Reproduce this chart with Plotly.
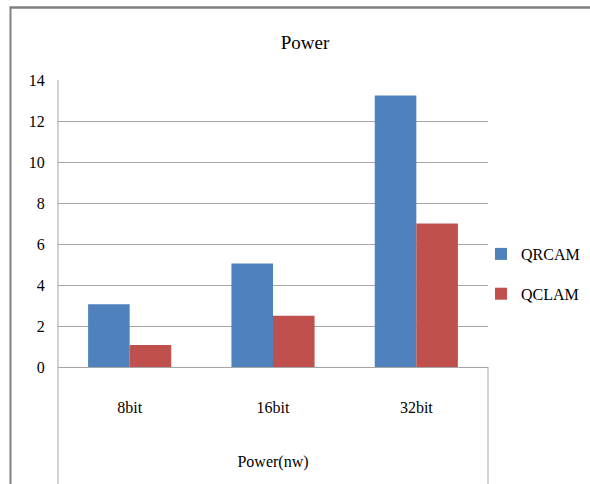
import plotly.graph_objects as go

categories = ["8bit", "16bit", "32bit"]
qrcam = [3.06, 5.05, 13.25]
qclam = [1.07, 2.5, 7.0]
y_ticks = [0, 2, 4, 6, 8, 10, 12, 14]

FONT = "'Liberation Serif', 'Times New Roman', 'DejaVu Serif', serif"
# figure is a bit wider than the 590px window so the legend keeps plotly's edge padding;
# the extra strip on the right is outside the visible window.
W, H = 612, 484
L, T, B = 58, 80, 117
R = W - 488
ph = H - T - B
pw = W - L - R

fig = go.Figure()
fig.add_trace(go.Bar(name="QRCAM", x=categories, y=qrcam, marker_color="#4F81BD",
                     marker_line_width=0, legendgroup="a"))
fig.add_trace(go.Bar(name="QCLAM", x=categories, y=qclam, marker_color="#C0504D",
                     marker_line_width=0, legendgroup="b"))

def px(x):
    return (x - L) / pw

def py(y):
    return (H - B - y) / ph

shapes = [
    dict(type="line", xref="paper", yref="paper", x0=0, x1=0, y0=py(80), y1=py(490),
         line=dict(color="#A6A6A6", width=1)),
    dict(type="line", xref="paper", yref="paper", x0=1, x1=1, y0=0, y1=py(490),
         line=dict(color="#A6A6A6", width=1)),
    dict(type="line", xref="paper", yref="paper", x0=px(9.5), x1=px(W), y0=py(7.5), y1=py(7.5),
         line=dict(color="#808080", width=2.5)),
    dict(type="line", xref="paper", yref="paper", x0=px(10.5), x1=px(10.5), y0=py(7.5), y1=py(490),
         line=dict(color="#808080", width=2)),
]

fig.update_layout(
    width=W, height=H,
    margin=dict(l=L, r=R, t=T, b=B),
    paper_bgcolor="white", plot_bgcolor="white",
    font=dict(family=FONT, color="black", size=15),
    title=dict(text="Power", x=305 / W, xanchor="center", y=1 - 42 / H, yanchor="middle",
               font=dict(family=FONT, size=19, color="black")),
    barmode="group", bargap=0.42, bargroupgap=0,
    legend=dict(x=px(481), xanchor="left", y=py(274), yanchor="middle",
                font=dict(family=FONT, size=16, color="black"),
                tracegroupgap=16, itemwidth=30, bgcolor="rgba(0,0,0,0)", borderwidth=0),
    shapes=shapes,
)
fig.update_yaxes(range=[0, 14], tickvals=y_ticks, showgrid=True, gridcolor="#A6A6A6",
                 gridwidth=1, zeroline=False, showline=False,
                 tickfont=dict(family=FONT, size=16), ticks="outside", ticklen=9,
                 tickcolor="rgba(0,0,0,0)")
fig.update_xaxes(showgrid=False, showline=True, linecolor="#A6A6A6", linewidth=1,
                 ticks="outside", ticklen=26, tickcolor="rgba(0,0,0,0)",
                 tickfont=dict(family=FONT, size=16),
                 title=dict(text="Power(nw)", standoff=40, font=dict(family=FONT, size=16)))

fig.write_html("out.html",
               post_script="document.body.style.margin='0';document.body.style.overflow='hidden';"
                           "document.documentElement.style.overflow='hidden';",
               config={"displayModeBar": False})
